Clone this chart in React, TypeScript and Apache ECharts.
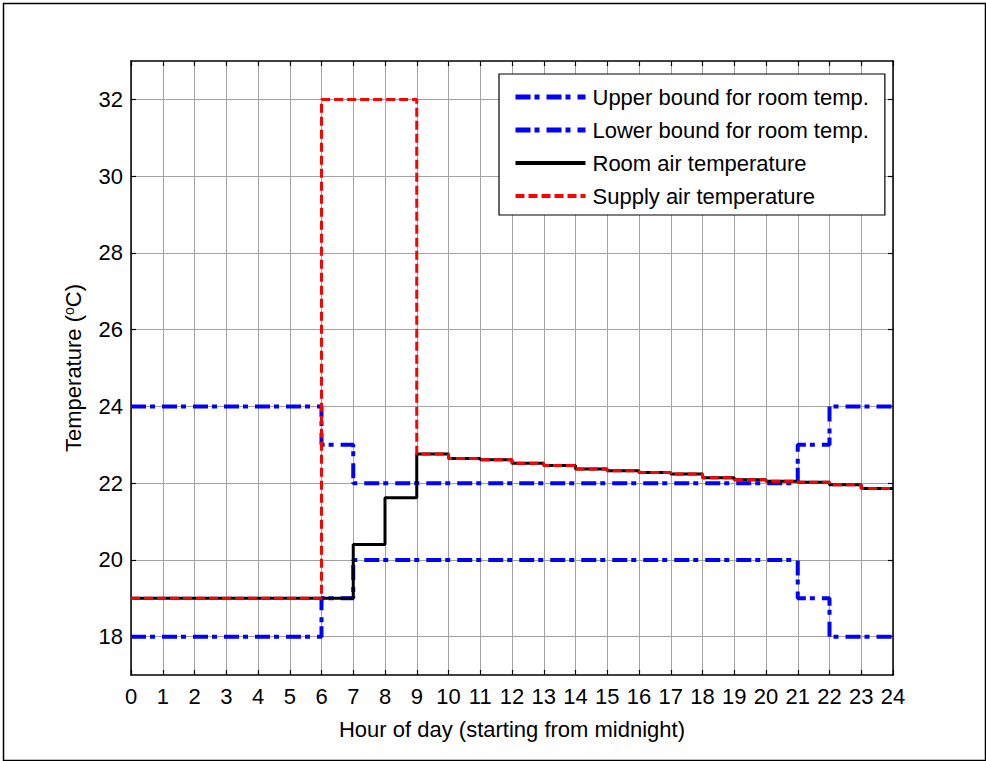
import React, { useEffect, useRef } from 'react';
import * as echarts from 'echarts';

const upperHours = [0, 6, 7, 21, 22, 24];
const upperTemps = [24, 23, 22, 23, 24, 24];
const lowerHours = [0, 6, 7, 21, 22, 24];
const lowerTemps = [18, 19, 20, 19, 18, 18];
const roomHours = [0, 7, 8, 9, 10, 11, 12, 13, 14, 15, 16, 17, 18, 19, 20, 21, 22, 23, 24];
const roomTemps = [19, 20.4, 21.62, 22.76, 22.64, 22.61, 22.52, 22.46, 22.37, 22.32, 22.28, 22.24, 22.14, 22.09, 22.05, 22.02, 21.96, 21.86, 21.86];
const supplyHours = [0, 6, 9, 10, 11, 12, 13, 14, 15, 16, 17, 18, 19, 20, 21, 22, 23, 24];
const supplyTemps = [19, 32, 22.76, 22.64, 22.61, 22.52, 22.46, 22.37, 22.32, 22.28, 22.24, 22.14, 22.09, 22.05, 22.02, 21.96, 21.86, 21.86];
const yTickValues = [18, 20, 22, 24, 26, 28, 30, 32];
const seriesNames = [
  'Upper bound for room temp.',
  'Lower bound for room temp.',
  'Room air temperature',
  'Supply air temperature',
];

const FONT = '"Liberation Sans", Arial, sans-serif';

function pairs(xs: number[], ys: number[]) {
  return xs.map((x, i) => [x, ys[i]]);
}

export default function App() {
  const ref = useRef<HTMLDivElement>(null);
  useEffect(() => {
    if (!ref.current) return;
    const chart = echarts.init(ref.current, null, { renderer: 'svg' });
    const axisLine = { show: true, onZero: false, lineStyle: { color: '#000', width: 1.5 } };
    const tick = { show: true, inside: true, length: 5, lineStyle: { color: '#000', width: 1.2 } };
    const grid = { show: true, lineStyle: { color: '#a3a3a3', width: 1 } };
    const blueDash = [15, 4, 5, 7];
    const legendWidths = [5, 5, 4, 4];
    chart.setOption({
      animation: false,
      backgroundColor: '#fff',
      grid: { left: 131, right: 93, top: 61, bottom: 86 },
      xAxis: [
        {
          type: 'value', min: 0, max: 24, interval: 1, position: 'bottom',
          axisLine, axisTick: tick, splitLine: grid,
          axisLabel: { fontSize: 22, color: '#000', margin: 10, fontFamily: FONT },
          name: 'Hour of day (starting from midnight)', nameLocation: 'middle', nameGap: 43,
          nameTextStyle: { fontSize: 22, color: '#000', fontFamily: FONT },
        },
        {
          type: 'value', min: 0, max: 24, interval: 1, position: 'top',
          axisLine, axisTick: tick, splitLine: { show: false }, axisLabel: { show: false },
        },
      ],
      yAxis: [
        {
          type: 'value', min: 17, max: 33, position: 'left',
          axisLine, axisTick: { ...tick, customValues: yTickValues }, splitLine: grid,
          axisLabel: { fontSize: 22, color: '#000', margin: 8, fontFamily: FONT, customValues: yTickValues },
          name: 'Temperature ({sup|o}C)', nameLocation: 'middle', nameGap: 47,
          nameTextStyle: {
            fontSize: 22, color: '#000', fontFamily: FONT,
            rich: { sup: { fontSize: 14, color: '#000', fontFamily: FONT, verticalAlign: 'top', padding: [0, 0, 8, 0] } },
          },
        },
        {
          type: 'value', min: 17, max: 33, position: 'right',
          axisLine, axisTick: { ...tick, customValues: yTickValues }, splitLine: { show: false },
          axisLabel: { show: false, customValues: yTickValues },
        },
      ],
      legend: {
        left: 499, top: 74, orient: 'vertical',
        backgroundColor: '#fff', borderColor: '#000', borderWidth: 1.2, borderRadius: 0,
        padding: [12, 16, 8, 14], itemWidth: 70, itemHeight: 22, itemGap: 11,
        textStyle: { fontSize: 22, color: '#000', fontFamily: FONT, padding: [0, 0, 0, 2] },
        itemStyle: { opacity: 0 },
        data: seriesNames.map((name, i) => ({ name, lineStyle: { width: legendWidths[i] } })),
        z: 10,
      },
      series: [
        {
          name: seriesNames[0], type: 'line', step: 'end', symbol: 'none',
          data: pairs(upperHours, upperTemps),
          lineStyle: { color: '#0000ff', width: 4, type: blueDash },
          itemStyle: { color: '#0000ff' },
        },
        {
          name: seriesNames[1], type: 'line', step: 'end', symbol: 'none',
          data: pairs(lowerHours, lowerTemps),
          lineStyle: { color: '#0000ff', width: 4, type: blueDash },
          itemStyle: { color: '#0000ff' },
        },
        {
          name: seriesNames[2], type: 'line', step: 'end', symbol: 'none',
          data: pairs(roomHours, roomTemps),
          lineStyle: { color: '#000', width: 3, type: 'solid' },
          itemStyle: { color: '#000' },
        },
        {
          name: seriesNames[3], type: 'line', step: 'end', symbol: 'none',
          data: pairs(supplyHours, supplyTemps),
          lineStyle: { color: '#ff0000', width: 3, type: [9, 4] },
          itemStyle: { color: '#ff0000' },
        },
      ],
      graphic: [
        {
          type: 'rect', left: 1, top: 1, z: -10, silent: true,
          shape: { x: 0, y: 0, width: 982, height: 757 },
          style: { fill: 'none', stroke: '#000', lineWidth: 1.5 },
        },
      ],
    });
    return () => chart.dispose();
  }, []);
  return (
    <div
      ref={ref}
      style={{ position: 'fixed', left: 0, top: 0, width: 986, height: 761 }}
    />
  );
}
